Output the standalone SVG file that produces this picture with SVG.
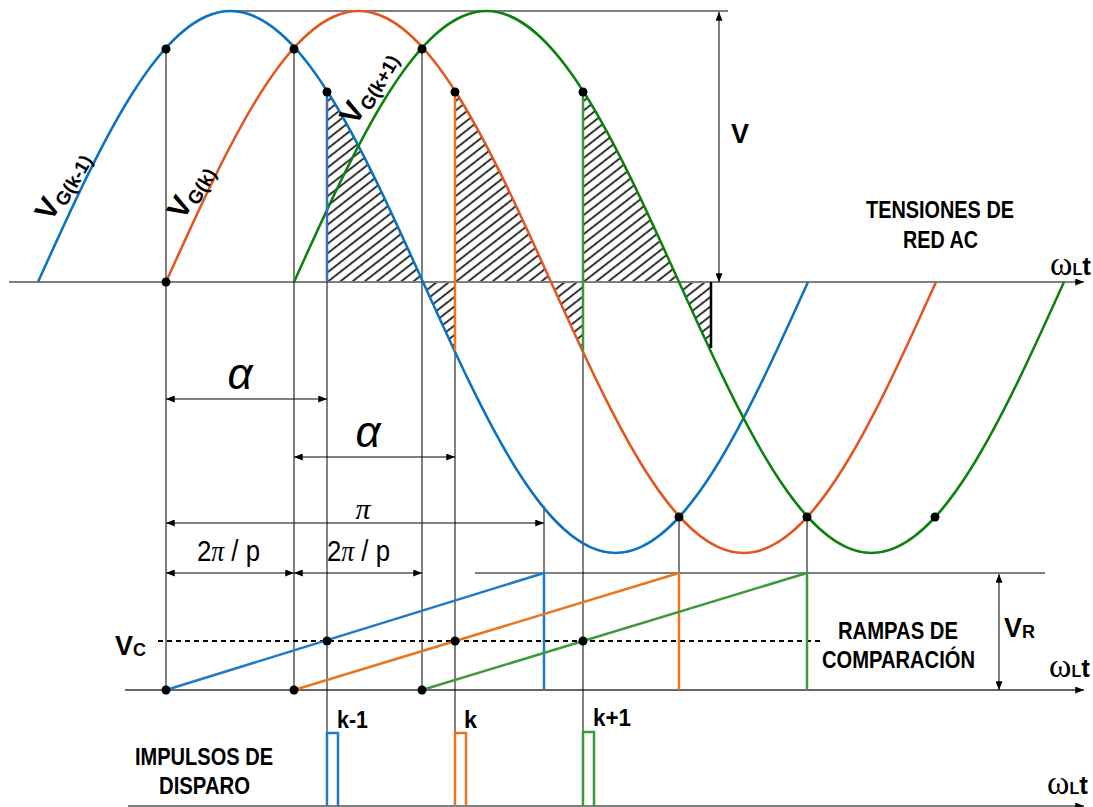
<svg xmlns="http://www.w3.org/2000/svg" width="1093" height="807" viewBox="0 0 1093 807">
<defs>
<style>
.ax{stroke:#7f7f7f;stroke-width:2;fill:none}
.axk{stroke:#333;stroke-width:1.6;fill:none}
.thin{stroke:#000;stroke-width:1;fill:none}
.dim{stroke:#000;stroke-width:1;fill:none}
.cb{stroke:#0A72BE;stroke-width:2.5;fill:none}
.co{stroke:#E2561F;stroke-width:2.5;fill:none}
.cg{stroke:#0B820B;stroke-width:2.5;fill:none}
.rb{stroke:#1F7BC8;stroke-width:2.5;fill:none}
.ro{stroke:#E8761E;stroke-width:2.5;fill:none}
.rg{stroke:#3C9A3C;stroke-width:2.5;fill:none}
.dot{fill:#000}
.lbl{font-family:"Liberation Sans Narrow","Liberation Sans",Arial,sans-serif;font-weight:bold;font-size:23px;fill:#000}
.lbk{font-family:"Liberation Sans Narrow","Liberation Sans",Arial,sans-serif;font-weight:bold;font-size:24px;fill:#000}
.sb{font-family:"Liberation Sans",Arial,sans-serif;font-weight:bold;fill:#000}
.gr{font-family:"Liberation Serif","Times New Roman",serif;font-style:italic;fill:#000}
.ga{font-family:"Liberation Sans",Arial,sans-serif;font-style:italic;fill:#000;font-size:44px}
.sn{font-family:"Liberation Sans",Arial,sans-serif;fill:#000;font-size:29px}
.om{font-family:"Liberation Serif","Times New Roman",serif;font-size:34px}
</style>
<marker id="ah" viewBox="0 0 10 8" refX="10" refY="4" markerWidth="9" markerHeight="7" markerUnits="userSpaceOnUse" orient="auto-start-reverse"><path d="M0,0L10,4L0,8z" fill="#000"/></marker>
<pattern id="hatch" patternUnits="userSpaceOnUse" width="8" height="7.5" patternTransform="rotate(-38)"><line x1="-1" y1="3.75" x2="9" y2="3.75" stroke="#333" stroke-width="2"/></pattern>
<path id="hreg" d="M327,282 L327,90.8 L343,117.4 L359,146.8 L375,178.5 L391,212 L407,246.7 L423,282 L439,317.3 L455,352 L455,282 Z"/>
</defs>
<rect width="1093" height="807" fill="#fff"/>

<g id="hatching" fill="url(#hatch)" stroke="none">
<use href="#hreg"/>
<use href="#hreg" transform="translate(128,0)"/>
<use href="#hreg" transform="translate(256,0)"/>
</g>

<g id="connectors">
<path class="ax" d="M9,282H1084" marker-end="url(#ah)"/>
<path class="axk" d="M125,690H1084" marker-end="url(#ah)"/>
<path class="ax" d="M128,806H1084" marker-end="url(#ah)"/>
<path class="thin" d="M228,11H728 M475,573H1045"/>
<path class="thin" d="M166,49V690 M294,49V690 M422,49V690 M327,92V806 M455,92V806 M583,92V806 M544,506V573 M679,517V573 M807,517V573"/>
<path d="M158,641H820" stroke="#000" stroke-width="2" stroke-dasharray="5,4" fill="none"/>
<path class="dim" d="M166,399H327" marker-start="url(#ah)" marker-end="url(#ah)"/>
<path class="dim" d="M294,457H455" marker-start="url(#ah)" marker-end="url(#ah)"/>
<path class="dim" d="M166,523H544" marker-start="url(#ah)" marker-end="url(#ah)"/>
<path class="dim" d="M166,573H294" marker-start="url(#ah)" marker-end="url(#ah)"/>
<path class="dim" d="M294,573H422" marker-start="url(#ah)" marker-end="url(#ah)"/>
<path class="dim" d="M719,12V282" marker-start="url(#ah)" marker-end="url(#ah)"/>
<path class="dim" d="M999,574V690" marker-start="url(#ah)" marker-end="url(#ah)"/>
</g>

<g id="curves">
<path id="vg-km1" class="cb" d="M38,282 c62.7,-138.7 122.9,-271 192.5,-271 s129.8,132.3 192.5,271 s122.9,271 192.5,271 s129.8,-132.3 192.5,-271"/>
<path id="vg-k" class="co" d="M166,282 c62.7,-138.7 122.9,-271 192.5,-271 s129.8,132.3 192.5,271 s122.9,271 192.5,271 s129.8,-132.3 192.5,-271"/>
<path id="vg-kp1" class="cg" d="M294,282 c62.7,-138.7 122.9,-271 192.5,-271 s129.8,132.3 192.5,271 s122.9,271 192.5,271 s129.8,-132.3 192.5,-271"/>
</g>

<g id="firing-lines">
<path d="M327,92V282" stroke="#3A6CC0" stroke-width="2.5" fill="none"/>
<path d="M455,92V351" stroke="#E8761E" stroke-width="2.5" fill="none"/>
<path d="M583,92V351" stroke="#3C9A3C" stroke-width="2.5" fill="none"/>
<path d="M711,282V348" stroke="#000" stroke-width="2.5" fill="none"/>
</g>

<g id="ramps">
<path class="rb" d="M166,690 L544,573 V690"/>
<path class="ro" d="M294,690 L679,573 V690"/>
<path class="rg" d="M422,690 L807,573 V690"/>
</g>

<g id="impulses">
<path class="rb" d="M327,806 V733 H338 V806"/>
<path class="ro" d="M455,806 V733 H466 V806"/>
<path class="rg" d="M583,806 V732 H594 V806"/>
</g>

<g id="dots">
<circle class="dot" cx="166" cy="49" r="4.5"/>
<circle class="dot" cx="294" cy="49" r="4.5"/>
<circle class="dot" cx="422" cy="49" r="4.5"/>
<circle class="dot" cx="327" cy="92" r="4.5"/>
<circle class="dot" cx="455" cy="92" r="4.5"/>
<circle class="dot" cx="583" cy="92" r="4.5"/>
<circle class="dot" cx="166" cy="282" r="4.5"/>
<circle class="dot" cx="679" cy="517" r="4.5"/>
<circle class="dot" cx="807" cy="517" r="4.5"/>
<circle class="dot" cx="935" cy="517" r="4.5"/>
<circle class="dot" cx="327" cy="641" r="4.5"/>
<circle class="dot" cx="455" cy="641" r="4.5"/>
<circle class="dot" cx="583" cy="641" r="4.5"/>
<circle class="dot" cx="166" cy="690" r="4.5"/>
<circle class="dot" cx="294" cy="690" r="4.5"/>
<circle class="dot" cx="422" cy="690" r="4.5"/>
</g>

<g id="labels">
<g transform="translate(70,190) rotate(-60)"><text class="sb" text-anchor="middle"><tspan font-size="30">V</tspan><tspan font-size="19" dy="5">G(k-1)</tspan></text></g>
<g transform="translate(198,196) rotate(-60)"><text class="sb" text-anchor="middle"><tspan font-size="30">V</tspan><tspan font-size="19" dy="5">G(k)</tspan></text></g>
<g transform="translate(376,92) rotate(-60)"><text class="sb" text-anchor="middle"><tspan font-size="30">V</tspan><tspan font-size="19" dy="5">G(k+1)</tspan></text></g>

<text class="lbl" x="866" y="218" textLength="148" lengthAdjust="spacingAndGlyphs">TENSIONES DE</text>
<text class="lbl" x="903" y="248" textLength="75" lengthAdjust="spacingAndGlyphs">RED AC</text>
<text class="lbl" x="838" y="639" textLength="120" lengthAdjust="spacingAndGlyphs">RAMPAS DE</text>
<text class="lbl" x="822" y="668" textLength="153" lengthAdjust="spacingAndGlyphs">COMPARACIÓN</text>
<text class="lbl" x="135" y="765" textLength="138" lengthAdjust="spacingAndGlyphs">IMPULSOS DE</text>
<text class="lbl" x="159" y="794" textLength="91" lengthAdjust="spacingAndGlyphs">DISPARO</text>

<text class="lbk" x="337" y="728" textLength="31" lengthAdjust="spacingAndGlyphs">k-1</text>
<text class="lbk" x="464" y="728" textLength="13" lengthAdjust="spacingAndGlyphs">k</text>
<text class="lbk" x="593" y="726" textLength="38" lengthAdjust="spacingAndGlyphs">k+1</text>

<text class="sb" font-size="27" x="731" y="143">V</text>
<text class="sb" x="115" y="655"><tspan font-size="27">V</tspan><tspan font-size="18" dy="1">C</tspan></text>
<text class="sb" x="1004" y="637"><tspan font-size="27">V</tspan><tspan font-size="18" dy="1">R</tspan></text>

<text x="1050" y="275"><tspan class="om">ω</tspan><tspan class="sb" font-size="16">L</tspan><tspan class="sb" font-size="26">t</tspan></text>
<text x="1049" y="677"><tspan class="om">ω</tspan><tspan class="sb" font-size="16">L</tspan><tspan class="sb" font-size="26">t</tspan></text>
<text x="1047" y="794"><tspan class="om">ω</tspan><tspan class="sb" font-size="16">L</tspan><tspan class="sb" font-size="26">t</tspan></text>

<text class="ga" x="240" y="389" text-anchor="middle">α</text>
<text class="ga" x="368" y="447" text-anchor="middle">α</text>
<text class="gr" font-size="30" x="363" y="519" text-anchor="middle">π</text>
<text class="sn" x="197" y="561" textLength="63" lengthAdjust="spacingAndGlyphs">2<tspan class="gr">π</tspan> / p</text>
<text class="sn" x="327" y="561" textLength="63" lengthAdjust="spacingAndGlyphs">2<tspan class="gr">π</tspan> / p</text>
</g>
</svg>
